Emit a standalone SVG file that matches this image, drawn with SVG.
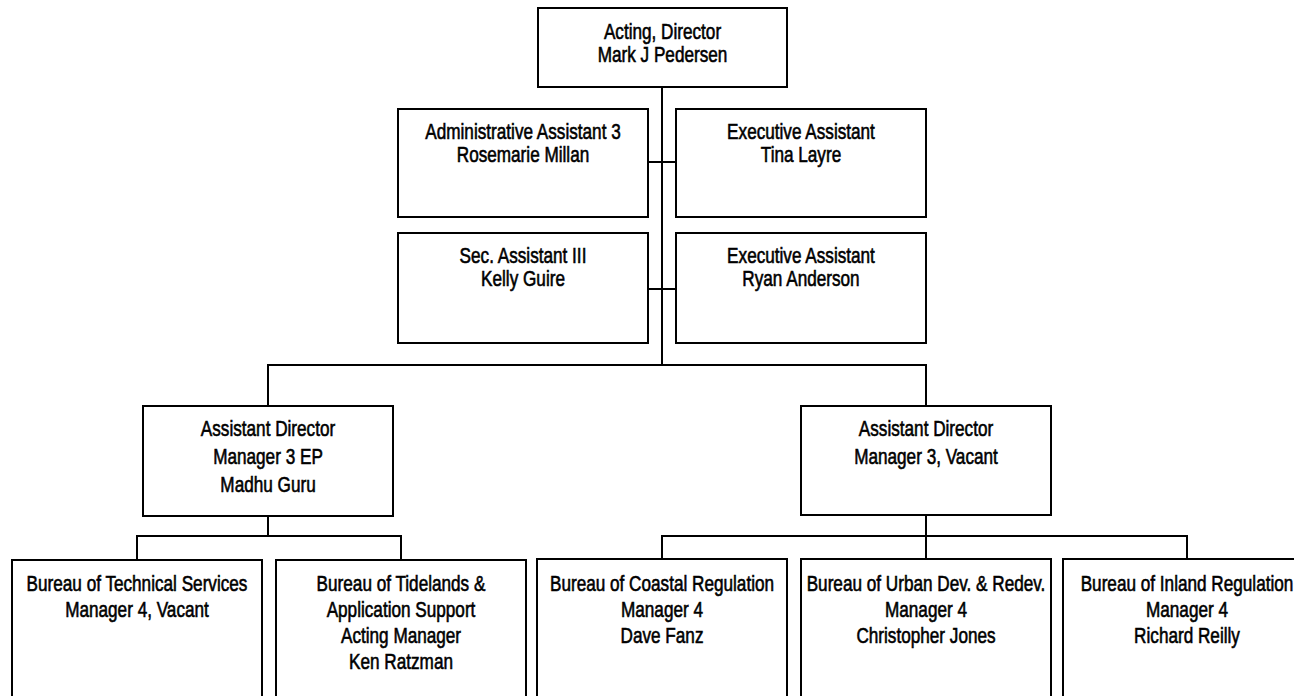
<svg xmlns="http://www.w3.org/2000/svg" width="1294" height="696" viewBox="0 0 1294 696">
<style>
.b{fill:#fff;stroke:#000;stroke-width:2}
.t{font-family:"Liberation Sans",Arial,sans-serif;font-size:22px;text-anchor:middle;fill:#000;stroke:#000;stroke-width:0.6}
.c{stroke:#000;stroke-width:2;fill:none}
</style>
<rect width="1294" height="696" fill="#fff"/>
<g id="connectors">
<path class="c" d="M662,87 V365"/>
<path class="c" d="M648,162 H676"/>
<path class="c" d="M648,289 H676"/>
<path class="c" d="M268,406 V365 H926 V406"/>
<path class="c" d="M268,516 V536"/>
<path class="c" d="M137,560 V536 H401 V560"/>
<path class="c" d="M926,515 V536"/>
<path class="c" d="M662,559 V536 H1187 V559"/>
<path class="c" d="M926,536 V559"/>
</g>
<g id="director">
<rect class="b" x="538" y="8" width="249" height="79"/>
<text class="t" transform="translate(662.5,0) scale(0.78,1)"><tspan x="0" y="39">Acting, Director</tspan><tspan x="0" dy="23">Mark J Pedersen</tspan></text>
</g>
<g id="admin-assistant">
<rect class="b" x="398" y="109" width="250" height="108"/>
<text class="t" transform="translate(523,0) scale(0.78,1)"><tspan x="0" y="139">Administrative Assistant 3</tspan><tspan x="0" dy="23">Rosemarie Millan</tspan></text>
</g>
<g id="exec-assistant-1">
<rect class="b" x="676" y="109" width="250" height="108"/>
<text class="t" transform="translate(801,0) scale(0.78,1)"><tspan x="0" y="139">Executive Assistant</tspan><tspan x="0" dy="23">Tina Layre</tspan></text>
</g>
<g id="sec-assistant">
<rect class="b" x="398" y="233" width="250" height="110"/>
<text class="t" transform="translate(523,0) scale(0.78,1)"><tspan x="0" y="263">Sec. Assistant III</tspan><tspan x="0" dy="23">Kelly Guire</tspan></text>
</g>
<g id="exec-assistant-2">
<rect class="b" x="676" y="233" width="250" height="110"/>
<text class="t" transform="translate(801,0) scale(0.78,1)"><tspan x="0" y="263">Executive Assistant</tspan><tspan x="0" dy="23">Ryan Anderson</tspan></text>
</g>
<g id="asst-director-left">
<rect class="b" x="143" y="406" width="250" height="110"/>
<text class="t" transform="translate(268,0) scale(0.78,1)"><tspan x="0" y="436">Assistant Director</tspan><tspan x="0" dy="28">Manager 3 EP</tspan><tspan x="0" dy="28">Madhu Guru</tspan></text>
</g>
<g id="asst-director-right">
<rect class="b" x="801" y="406" width="250" height="109"/>
<text class="t" transform="translate(926,0) scale(0.78,1)"><tspan x="0" y="436">Assistant Director</tspan><tspan x="0" dy="28">Manager 3, Vacant</tspan></text>
</g>
<g id="technical-services">
<rect class="b" x="12" y="560" width="250" height="160"/>
<text class="t" transform="translate(137,0) scale(0.78,1)"><tspan x="0" y="591">Bureau of Technical Services</tspan><tspan x="0" dy="26">Manager 4, Vacant</tspan></text>
</g>
<g id="tidelands">
<rect class="b" x="276" y="560" width="250" height="160"/>
<text class="t" transform="translate(401,0) scale(0.78,1)"><tspan x="0" y="591">Bureau of Tidelands &amp;</tspan><tspan x="0" dy="26">Application Support</tspan><tspan x="0" dy="26">Acting Manager</tspan><tspan x="0" dy="26">Ken Ratzman</tspan></text>
</g>
<g id="coastal-regulation">
<rect class="b" x="537" y="559" width="250" height="160"/>
<text class="t" transform="translate(662,0) scale(0.78,1)"><tspan x="0" y="591">Bureau of Coastal Regulation</tspan><tspan x="0" dy="26">Manager 4</tspan><tspan x="0" dy="26">Dave Fanz</tspan></text>
</g>
<g id="urban-development">
<rect class="b" x="801" y="559" width="250" height="160"/>
<text class="t" transform="translate(926,0) scale(0.78,1)"><tspan x="0" y="591">Bureau of Urban Dev. &amp; Redev.</tspan><tspan x="0" dy="26">Manager 4</tspan><tspan x="0" dy="26">Christopher Jones</tspan></text>
</g>
<g id="inland-regulation">
<rect class="b" x="1063" y="559" width="250" height="160"/>
<text class="t" transform="translate(1187,0) scale(0.78,1)"><tspan x="0" y="591">Bureau of Inland Regulation</tspan><tspan x="0" dy="26">Manager 4</tspan><tspan x="0" dy="26">Richard Reilly</tspan></text>
</g>
</svg>
